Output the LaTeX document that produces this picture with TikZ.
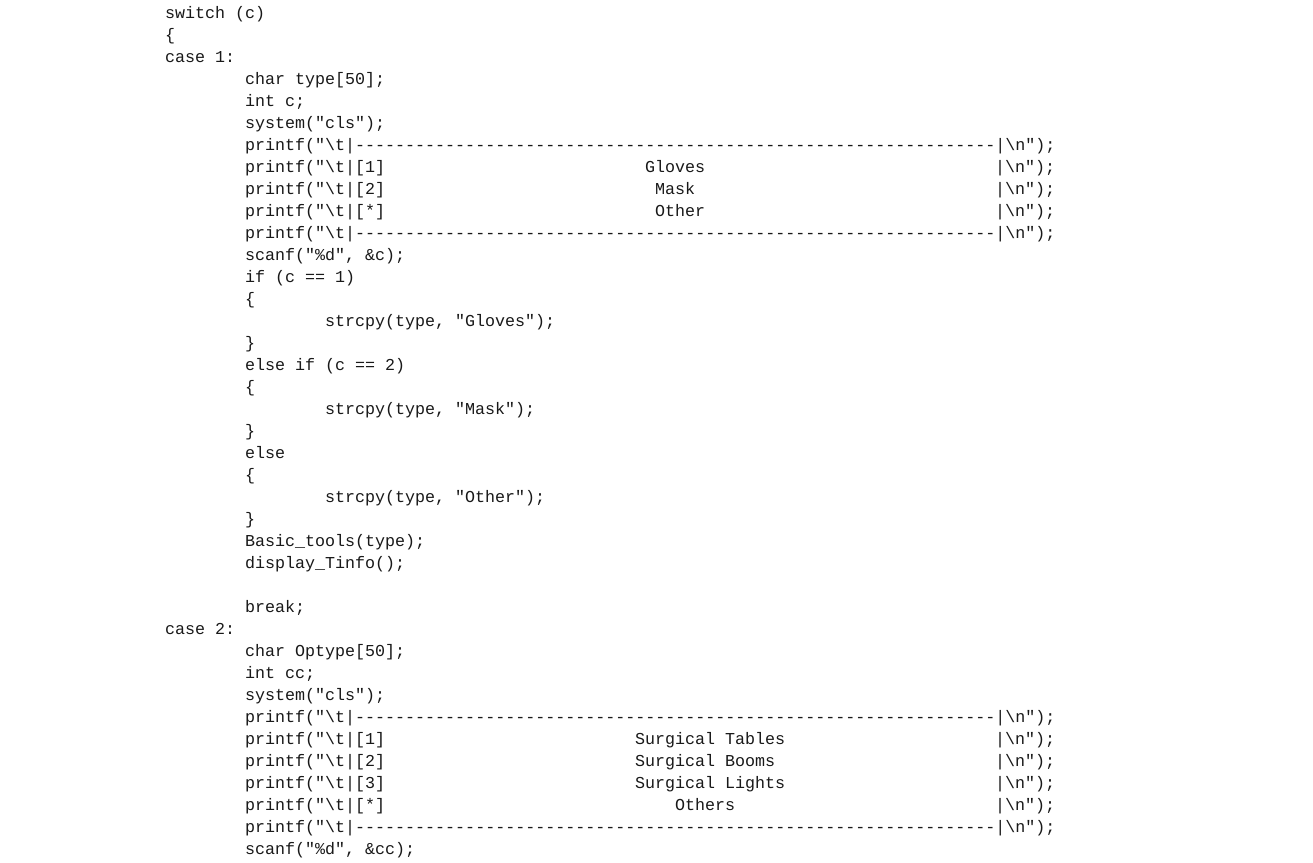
\documentclass[tikz,border=0pt]{standalone}
\usepackage{fontspec}
\setmonofont{Liberation Mono}
\newcommand\cd[3]{\node[code] at ({(165+10*#1)*1pt},{-(18+22*#2)*1pt}) {#3};}
\tikzset{code/.style={anchor=base west,inner sep=0pt,font=\ttfamily\fontsize{16.67}{20}\selectfont,text=black!90}}
\def\dsh{----------------------------------------------------------------}
\begin{document}
\begin{tikzpicture}[x=1pt,y=1pt]
\useasboundingbox[fill=white] (0,0) rectangle (1313,-862);
\cd{0}{0}{switch (c)}
\cd{0}{1}{\{}
\cd{0}{2}{case 1:}
\cd{8}{3}{char type[50];}
\cd{8}{4}{int c;}
\cd{8}{5}{system("cls");}
\cd{8}{6}{printf("\textbackslash t|\dsh|\textbackslash n");}
\cd{8}{7}{printf("\textbackslash t|[1]} \cd{48}{7}{Gloves} \cd{83}{7}{|\textbackslash n");}
\cd{8}{8}{printf("\textbackslash t|[2]} \cd{49}{8}{Mask} \cd{83}{8}{|\textbackslash n");}
\cd{8}{9}{printf("\textbackslash t|[*]} \cd{49}{9}{Other} \cd{83}{9}{|\textbackslash n");}
\cd{8}{10}{printf("\textbackslash t|\dsh|\textbackslash n");}
\cd{8}{11}{scanf("\%d", \&c);}
\cd{8}{12}{if (c == 1)}
\cd{8}{13}{\{}
\cd{16}{14}{strcpy(type, "Gloves");}
\cd{8}{15}{\}}
\cd{8}{16}{else if (c == 2)}
\cd{8}{17}{\{}
\cd{16}{18}{strcpy(type, "Mask");}
\cd{8}{19}{\}}
\cd{8}{20}{else}
\cd{8}{21}{\{}
\cd{16}{22}{strcpy(type, "Other");}
\cd{8}{23}{\}}
\cd{8}{24}{Basic\_tools(type);}
\cd{8}{25}{display\_Tinfo();}
\cd{8}{27}{break;}
\cd{0}{28}{case 2:}
\cd{8}{29}{char Optype[50];}
\cd{8}{30}{int cc;}
\cd{8}{31}{system("cls");}
\cd{8}{32}{printf("\textbackslash t|\dsh|\textbackslash n");}
\cd{8}{33}{printf("\textbackslash t|[1]} \cd{47}{33}{Surgical Tables} \cd{83}{33}{|\textbackslash n");}
\cd{8}{34}{printf("\textbackslash t|[2]} \cd{47}{34}{Surgical Booms} \cd{83}{34}{|\textbackslash n");}
\cd{8}{35}{printf("\textbackslash t|[3]} \cd{47}{35}{Surgical Lights} \cd{83}{35}{|\textbackslash n");}
\cd{8}{36}{printf("\textbackslash t|[*]} \cd{51}{36}{Others} \cd{83}{36}{|\textbackslash n");}
\cd{8}{37}{printf("\textbackslash t|\dsh|\textbackslash n");}
\cd{8}{38}{scanf("\%d", \&cc);}
\end{tikzpicture}
\end{document}
